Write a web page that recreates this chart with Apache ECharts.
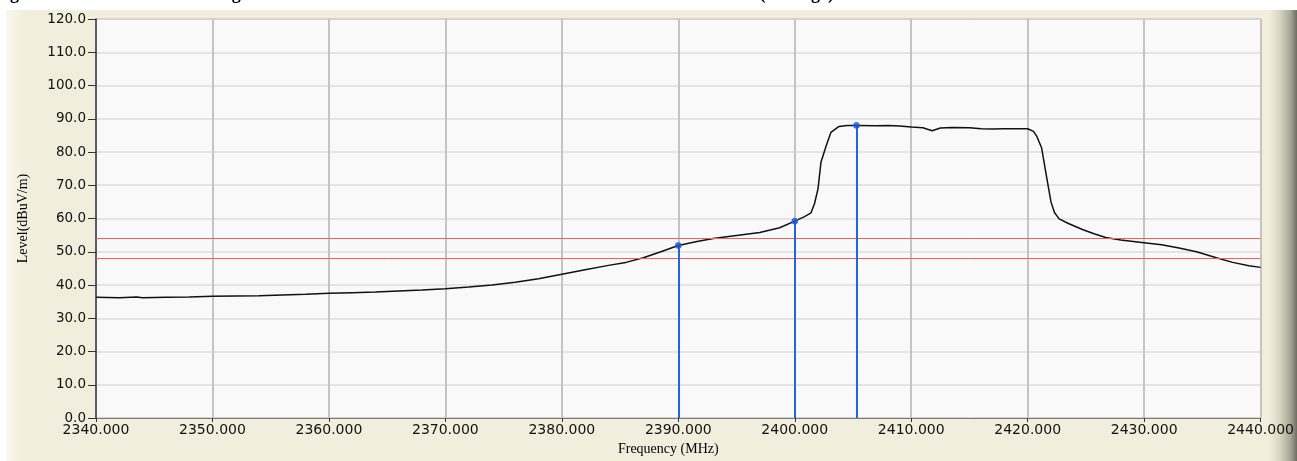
<!DOCTYPE html>
<html>
<head>
<meta charset="utf-8">
<script src="https://cdn.jsdelivr.net/npm/echarts@6/dist/echarts.min.js"></script>
<style>
html,body{margin:0;padding:0;background:#fff;}
#chart{width:1297px;height:461px;}
</style>
</head>
<body>
<div id="chart"></div>
<script>
// ---- data ----
const freqs = [2340.0,2342.0,2343.5,2344.0,2346,2348,2350,2352,2354,2356,2358,2360,2362,2364,2366,2368,2370,2372,2374,2376,2378,2380,2382,2384,2385.5,2387,2388.5,2390,2391.5,2393,2395,2397,2398.7,2400,2400.8,2401.4,2401.7,2402.0,2402.25,2402.7,2403.1,2403.8,2404.5,2405.3,2407,2408,2409,2410,2411,2411.8,2412.5,2413.5,2415,2416,2417,2418,2419,2420,2420.5,2420.8,2421.2,2421.6,2422.0,2422.3,2422.7,2423.5,2424.7,2425.7,2426.7,2428,2429.8,2431.5,2433,2434.5,2436.2,2437.6,2439,2440];
const levels = [36.3,36.2,36.4,36.2,36.3,36.4,36.6,36.7,36.8,37.0,37.2,37.5,37.7,37.9,38.2,38.5,38.9,39.4,40.0,40.8,41.9,43.2,44.6,45.9,46.8,48.2,50.0,51.9,53.0,54.0,54.9,55.8,57.2,59.2,60.5,61.7,64.5,69.0,76.9,81.9,85.9,87.7,88.0,88.0,87.9,88.0,87.8,87.5,87.3,86.4,87.2,87.4,87.3,87.0,86.9,87.0,87.0,87.0,86.2,84.6,81.2,73.0,65.0,61.8,59.9,58.5,56.7,55.4,54.3,53.5,52.8,52.1,51.1,50.0,48.2,46.8,45.8,45.3];
const markerFreqs = [2390.0, 2400.0, 2405.3];
const markerLevels = [51.9, 59.2, 88.0];
const limitLevels = [54.0, 48.0];
const xMin = 2340, xMax = 2440, xStep = 10;
const yMin = 0, yMax = 120, yStep = 10;
const xAxisTitle = 'Frequency (MHz)';
const yAxisTitle = 'Level(dBuV/m)';
const titleLeft = 'Figure 8.4  Restricted Band Edge';
const titleRight = 'Horizontal (Average)';

// ---- build ----
const curve = freqs.map((f, i) => [f, levels[i]]);
const markerPts = markerFreqs.map((f, i) => [f, markerLevels[i]]);
const markerLines = markerFreqs.map((f, i) => [{coord: [f, yMin]}, {coord: [f, markerLevels[i]]}]);
const limitLines = limitLevels.map(v => ({yAxis: v}));

const chart = echarts.init(document.getElementById('chart'), null, {renderer: 'canvas'});
chart.setOption({
  backgroundColor: '#ffffff',
  animation: false,
  graphic: [
    {type: 'rect', z: -10, shape: {x: 6, y: 10, width: 1270, height: 451}, style: {fill: '#f1eedd'}},
    {type: 'rect', z: -9, shape: {x: 6, y: 10, width: 18, height: 451},
      style: {fill: new echarts.graphic.LinearGradient(0, 0, 1, 0, [{offset: 0, color: '#faf8ee'}, {offset: 1, color: '#f1eedd'}])}},
    {type: 'rect', z: -9, shape: {x: 1270, y: 10, width: 27, height: 451, r: [4, 0, 0, 0]},
      style: {fill: new echarts.graphic.LinearGradient(0, 0, 1, 0, [
        {offset: 0, color: '#efecda'}, {offset: 0.35, color: '#d8d5c2'}, {offset: 0.75, color: '#a9a795'}, {offset: 1, color: '#6f6d62'}])}},
    {type: 'text', left: -6, top: -15, z: 5, style: {text: titleLeft, font: 'bold 18px "Liberation Serif", serif', fill: '#000'}},
    {type: 'text', left: 672, top: -15, z: 5, style: {text: titleRight, font: 'bold 18px "Liberation Serif", serif', fill: '#000'}}
  ],
  grid: {
    left: 96, right: 35, top: 19, bottom: 40,
    show: true, backgroundColor: '#f9f9f9', borderColor: '#7a7a7a', borderWidth: 1
  },
  xAxis: {
    type: 'value', min: xMin, max: xMax, interval: xStep,
    name: xAxisTitle, nameLocation: 'middle', nameGap: 24,
    nameTextStyle: {fontFamily: '"Liberation Serif", serif', fontSize: 14, color: '#000', padding: [0, 20, 0, 0]},
    axisLine: {show: true, onZero: false, lineStyle: {color: '#7a7a7a', width: 1}},
    axisTick: {show: true, length: 4, inside: false, lineStyle: {color: '#333'}},
    axisLabel: {margin: 5, fontFamily: '"DejaVu Sans", sans-serif', fontSize: 14, color: '#111',
      showMaxLabel: true, showMinLabel: true, formatter: v => v.toFixed(3)},
    splitLine: {show: true, lineStyle: {color: '#c4c4c4', width: 2}}
  },
  yAxis: {
    type: 'value', min: yMin, max: yMax, interval: yStep,
    name: yAxisTitle, nameLocation: 'middle', nameGap: 66, nameRotate: 90,
    nameTextStyle: {fontFamily: '"Liberation Serif", serif', fontSize: 14, color: '#000'},
    axisLine: {show: true, lineStyle: {color: '#3a3a3a', width: 1.5}},
    axisTick: {show: true, length: 8, inside: false, lineStyle: {color: '#333'}},
    axisLabel: {margin: 10, fontFamily: '"DejaVu Sans", sans-serif', fontSize: 13.5, color: '#111',
      formatter: v => v.toFixed(1)},
    splitLine: {show: true, lineStyle: {color: '#dcdcdc', width: 1.5}}
  },
  series: [
    {
      type: 'line', data: curve, showSymbol: false, symbol: 'none', smooth: false,
      lineStyle: {color: '#111', width: 1.5}, z: 3,
      markLine: {
        silent: true, symbol: ['none', 'none'], label: {show: false},
        lineStyle: {color: '#ff5a5a', width: 1, type: 'solid'},
        data: limitLines
      }
    },
    {
      type: 'scatter', data: markerPts, symbol: 'circle', symbolSize: 6,
      itemStyle: {color: '#1d4fd0', borderColor: '#2a6ae8', borderWidth: 1}, z: 5,
      markLine: {
        silent: true, symbol: ['none', 'none'], label: {show: false},
        lineStyle: {color: '#2463e0', width: 2, type: 'solid'},
        data: markerLines
      }
    }
  ]
});
</script>
</body>
</html>
